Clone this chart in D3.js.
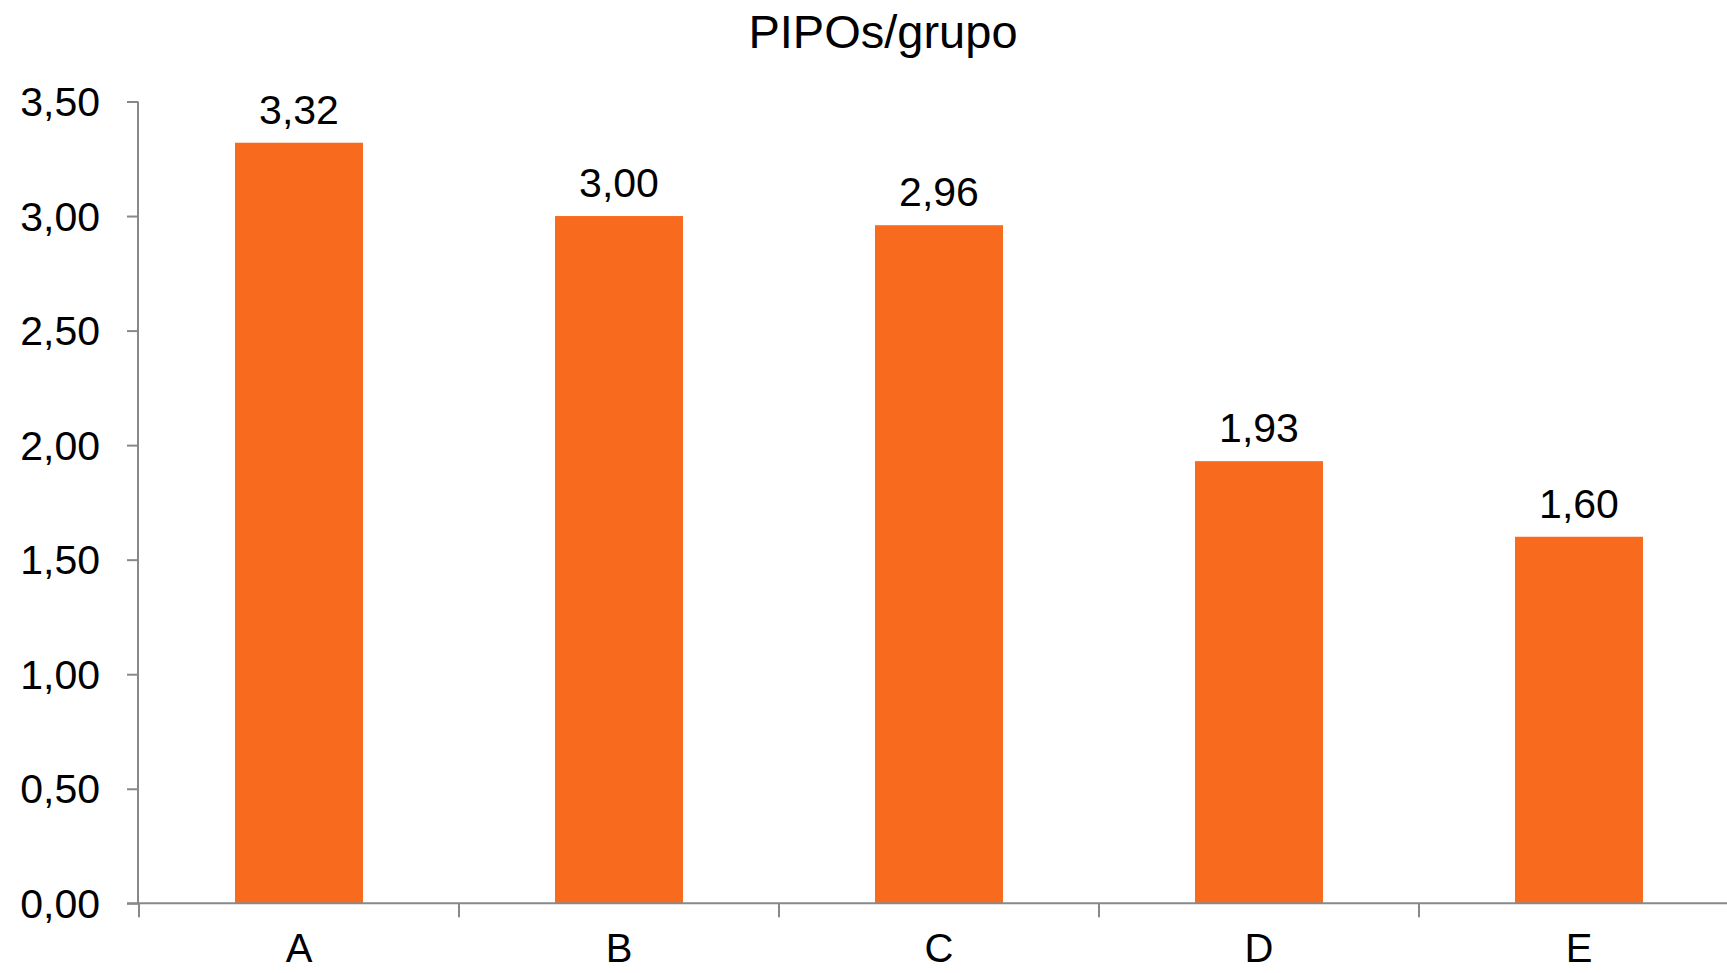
<!DOCTYPE html>
<html>
<head>
<meta charset="utf-8">
<script src="https://cdn.jsdelivr.net/npm/d3@7"></script>
<style>
  html, body { margin: 0; padding: 0; background: #fff; }
  svg { display: block; font-family: "Liberation Sans", Arial, sans-serif; }
</style>
</head>
<body>
<div id="chart"></div>
<script>
// Chart data
var categories = ['A', 'B', 'C', 'D', 'E'];
var values = [3.32, 3.00, 2.96, 1.93, 1.60];
var yTicks = [0, 0.5, 1, 1.5, 2, 2.5, 3, 3.5];
var title = 'PIPOs/grupo';

var width = 1727, height = 973;
var axisColor = '#888888';
var barColor = '#F86B1E';

// Portuguese number format (comma decimal)
var locale = d3.formatLocale({ decimal: ',', thousands: '.', grouping: [3], currency: ['', ' €'] });
var fmt = locale.format('.2f');

var svg = d3.select('#chart').append('svg')
    .attr('width', width)
    .attr('height', height);

// Plot area runs past the right edge, like the original.
var x = d3.scaleBand()
    .domain(categories)
    .range([139, 1739])
    .paddingInner(0.6)
    .paddingOuter(0.3);

var y = d3.scaleLinear()
    .domain([0, 3.5])
    .range([903.3, 101.5]);

// Title
svg.append('text')
    .attr('x', 883)
    .attr('y', 48)
    .attr('text-anchor', 'middle')
    .style('font-size', '47px')
    .style('fill', '#000')
    .text(title);

// Bars
svg.selectAll('rect.bar')
    .data(values)
    .enter()
    .append('rect')
    .attr('class', 'bar')
    .attr('x', (d, i) => x(categories[i]))
    .attr('y', d => y(d))
    .attr('width', x.bandwidth())
    .attr('height', d => y(0) - y(d))
    .style('fill', barColor);

// Value labels
svg.selectAll('text.value')
    .data(values)
    .enter()
    .append('text')
    .attr('class', 'value')
    .attr('x', (d, i) => x(categories[i]) + x.bandwidth() / 2)
    .attr('y', d => y(d) - 19)
    .attr('text-anchor', 'middle')
    .style('font-size', '41px')
    .text(d => fmt(d));

// Y axis
var yAxis = svg.append('g')
    .attr('transform', 'translate(138,0)')
    .call(d3.axisLeft(y).tickValues(yTicks).tickFormat(fmt).tickSize(11).tickPadding(27));
yAxis.selectAll('line, path').attr('stroke', axisColor).attr('stroke-width', 2);
yAxis.select('path').attr('d', 'M0,' + y(3.5) + 'V' + y(0));
yAxis.selectAll('text')
    .attr('fill', '#000')
    .attr('dy', null)
    .attr('dominant-baseline', 'central')
    .style('font-size', '41px')
    .style('font-family', '"Liberation Sans", Arial, sans-serif');

// X axis: labels at band centres, ticks at band boundaries
var xAxis = svg.append('g')
    .attr('transform', 'translate(0,' + y(0) + ')');
xAxis.append('line')
    .attr('x1', 127)
    .attr('x2', width)
    .attr('stroke', axisColor)
    .attr('stroke-width', 2);
var step = x.step();
xAxis.selectAll('line.tick')
    .data(categories)
    .enter()
    .append('line')
    .attr('class', 'tick')
    .attr('x1', d => x(d) - step * 0.3)
    .attr('x2', d => x(d) - step * 0.3)
    .attr('y1', 0)
    .attr('y2', 14)
    .attr('stroke', axisColor)
    .attr('stroke-width', 2);
xAxis.selectAll('text')
    .data(categories)
    .enter()
    .append('text')
    .attr('x', d => x(d) + x.bandwidth() / 2)
    .attr('y', 59)
    .attr('text-anchor', 'middle')
    .style('font-size', '40px')
    .text(d => d);
</script>
</body>
</html>
